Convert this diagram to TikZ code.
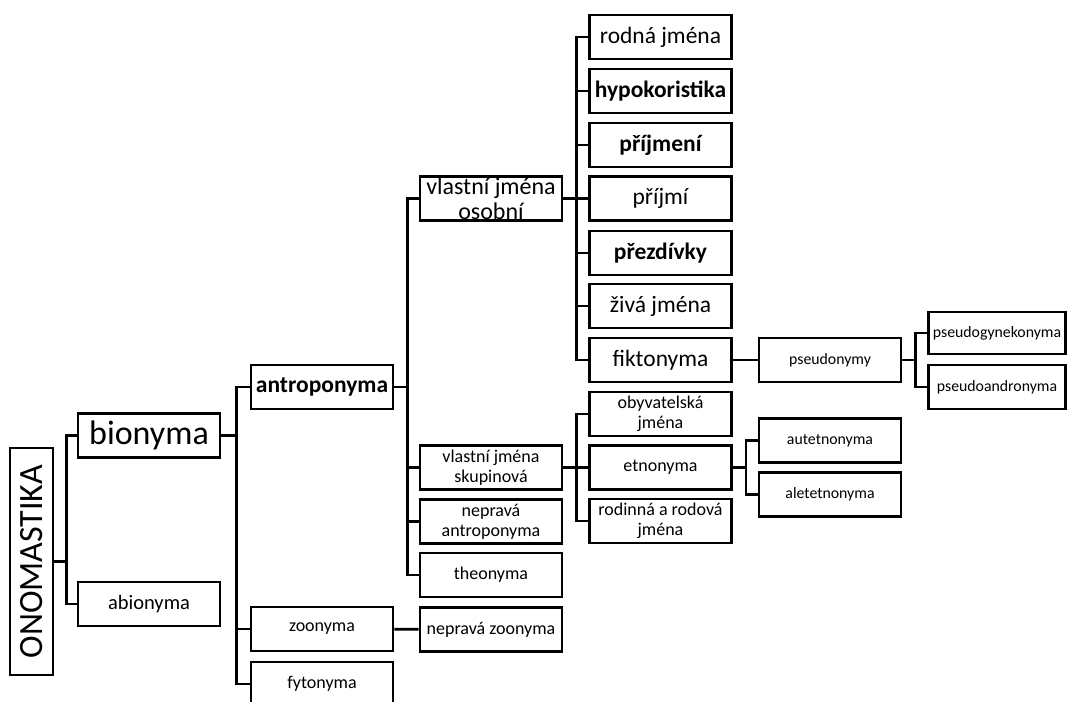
\documentclass[tikz,border=0pt]{standalone}
\usepackage{fontspec}
\setmainfont{Carlito}
\begin{document}
\begin{tikzpicture}[x=1pt, y=-1pt,
    box/.style={draw, line width=2.6pt, minimum width=142pt, minimum height=44pt, inner sep=1pt, align=center, font=\fontsize{18}{20}\selectfont},
    huge/.style={font=\fontsize{34}{36}\selectfont},
    mid/.style={font=\fontsize{23.5}{25}\selectfont},
    tiny/.style={font=\fontsize{15.8}{18}\selectfont},
    link/.style={line width=2.6pt}]
    \useasboundingbox (0,0) rectangle (1067,701);

    % koren a prvni uroven
    \node[box,huge,rotate=90,minimum width=227pt,minimum height=43pt] (ono) at (31.5,561.5) {ONOMASTIKA};
    \node[box,huge] (bio) at (149,435.5) {bionyma}; \node[box,font=\fontsize{20.5}{22}\selectfont] (abio) at (149,604) {abionyma};
    \draw[link] (ono.south) -- ++(12,0) |- (bio.west) (ono.south) ++(12,0) |- (abio.west);

    % bionyma
    \node[box,mid,font=\bfseries\fontsize{23.5}{25}\selectfont] (antro) at (322,387) {antroponyma};
    \node[box] (zoo) at (322,629) {zoonyma}; \node[box] (fyto) at (322,684) {fytonyma};
    \draw[link] (bio.east) -- ++(15,0) |- (antro.west) (bio.east) ++(15,0) |- (zoo.west) (bio.east) ++(15,0) |- (fyto.west);

    % antroponyma
    \node[box,mid,font=\fontsize{24}{25}\selectfont] (vjo) at (491,198.5) {vlastní jména\\osobní};
    \node[box] (vjs) at (491,467.5) {vlastní jména\\skupinová}; \node[box] (nanthr) at (491,521.5) {nepravá\\antroponyma};
    \node[box] (theo) at (491,575) {theonyma}; \node[box] (nzoo) at (491,629.5) {nepravá zoonyma};
    \draw[link] (antro.east) -- ++(13,0) |- (vjo.west) (antro.east) ++(13,0) |- (vjs.west)
        (antro.east) ++(13,0) |- (nanthr.west) (antro.east) ++(13,0) |- (theo.west);
    \draw[link] (zoo)--(nzoo);

    % vlastni jmena osobni
    \node[box,mid] (rodna) at (660.5,37) {rodná jména};
    \node[box,mid,font=\bfseries\fontsize{23.5}{25}\selectfont] (hypo) at (660.5,91) {hypokoristika};
    \node[box,mid,font=\bfseries\fontsize{23.5}{25}\selectfont] (prijmeni) at (660.5,145) {příjmení};
    \node[box,mid] (prijmi) at (660.5,198.5) {příjmí};
    \node[box,mid,font=\bfseries\fontsize{23.5}{25}\selectfont] (prezd) at (660.5,253) {přezdívky};
    \node[box,mid] (ziva) at (660.5,306) {živá jména}; \node[box,mid] (fikt) at (660.5,360) {fiktonyma};
    \draw[link] (vjo.east) -- ++(13,0) |- (rodna.west) (vjo.east) ++(13,0) |- (hypo.west)
        (vjo.east) ++(13,0) |- (prijmeni.west) (vjo.east) ++(13,0) |- (prijmi.west)
        (vjo.east) ++(13,0) |- (prezd.west) (vjo.east) ++(13,0) |- (ziva.west)
        (vjo.east) ++(13,0) |- (fikt.west);

    % vlastni jmena skupinova
    \node[box] (obyv) at (660.5,414) {obyvatelská\\jména}; \node[box] (etno) at (660.5,467.5) {etnonyma};
    \node[box] (rodin) at (660.5,521) {rodinná a rodová\\jména};
    \draw[link] (vjs.east) -- ++(13,0) |- (obyv.west) (vjs.east) ++(13,0) |- (etno.west) (vjs.east) ++(13,0) |- (rodin.west);

    % pseudonymy, etnonyma
    \node[box,tiny] (pseudo) at (830,360) {pseudonymy};
    \node[box,tiny] (aut) at (830,440.5) {autetnonyma}; \node[box,tiny] (alet) at (830,494.5) {aletetnonyma};
    \draw[link] (fikt)--(pseudo);
    \draw[link] (etno.east) -- ++(13,0) |- (aut.west) (etno.east) ++(13,0) |- (alet.west);

    \node[box,tiny,minimum width=137pt,minimum height=42pt] (pgyn) at (997,333) {pseudogynekonyma};
    \node[box,tiny,minimum width=137pt] (pand) at (997,387) {pseudoandronyma};
    \draw[link] (pseudo.east) -- ++(13,0) |- (pgyn.west) (pseudo.east) ++(13,0) |- (pand.west);
\end{tikzpicture}
\end{document}
